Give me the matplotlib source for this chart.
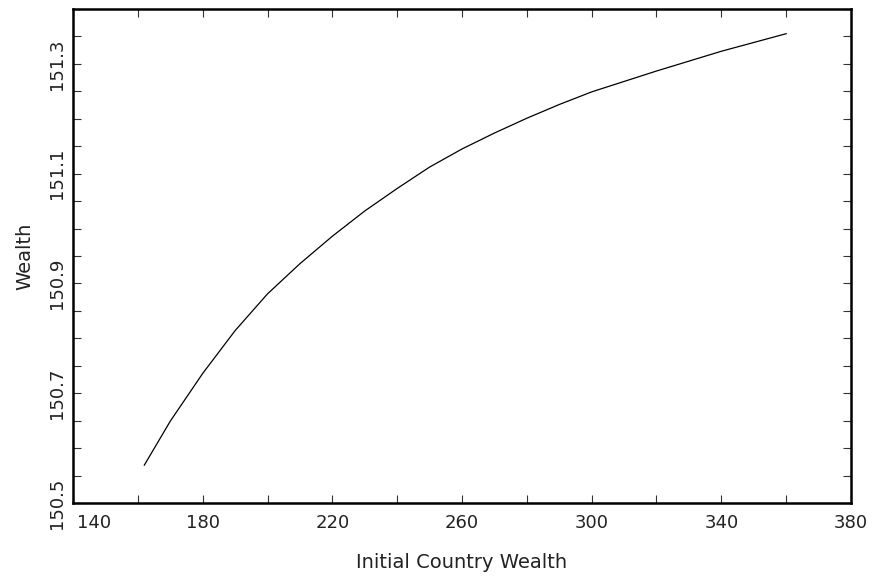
import matplotlib

matplotlib.use("Agg")
import matplotlib.pyplot as plt
import matplotlib.transforms as mtransforms
from matplotlib.ticker import MultipleLocator

# values
country_wealth = [162, 170, 180, 190, 200, 210, 220, 230, 240, 250, 260,
                  270, 280, 290, 300, 310, 320, 330, 340, 350, 360]
wealth = [150.569, 150.649, 150.736, 150.814, 150.881, 150.936, 150.986,
          151.032, 151.073, 151.112, 151.145, 151.174, 151.201, 151.226,
          151.249, 151.268, 151.287, 151.305, 151.323, 151.339, 151.355]

x_ticks = [140, 180, 220, 260, 300, 340, 380]
y_ticks = [150.5, 150.7, 150.9, 151.1, 151.3]

text_color = "#222222"

fig = plt.figure(figsize=(8.74, 5.79), dpi=100)
ax = fig.add_axes([73 / 874, 76 / 579, 778 / 874, 494 / 579])

ax.plot(country_wealth, wealth, color="black", lw=0.9)

ax.set_xlim(140, 380)
ax.set_ylim(150.5, 151.4)
ax.set_xticks(x_ticks)
ax.set_yticks(y_ticks)
ax.xaxis.set_minor_locator(MultipleLocator(20))
ax.yaxis.set_minor_locator(MultipleLocator(0.05))
ax.set_xticklabels([str(v) for v in x_ticks])
ax.set_yticklabels([f"{v:.1f}" for v in y_ticks])

for spine in ax.spines.values():
    spine.set_linewidth(1.8)

ax.tick_params(which="both", direction="in", top=True, right=True,
               length=6, width=0.8, color="#333333")
ax.tick_params(axis="x", labelsize=13, labelcolor=text_color, pad=8)
ax.tick_params(axis="y", labelsize=13, labelcolor=text_color, pad=5,
               labelrotation=90)
plt.setp(ax.get_yticklabels(), va="center")

# first x label sits right of its tick so it clears the 150.5 label
first = ax.get_xticklabels()[0]
first.set_ha("left")
first.set_transform(first.get_transform() + mtransforms.ScaledTranslation(
    3 / 72, 0, fig.dpi_scale_trans))

ax.set_xlabel("Initial Country Wealth", fontsize=14, color=text_color,
              labelpad=15)
ax.set_ylabel("Wealth", fontsize=14, color=text_color, labelpad=10)

fig.savefig("out.png", dpi=100)
